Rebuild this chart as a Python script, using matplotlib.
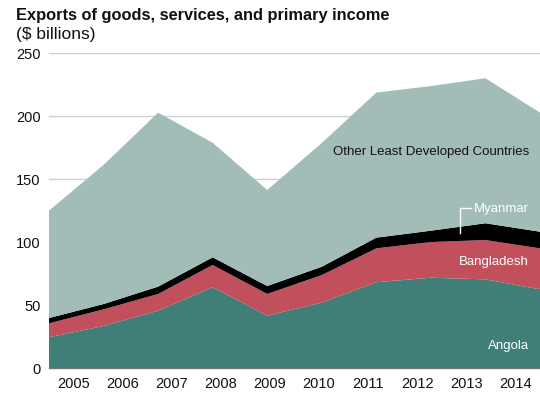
import matplotlib
matplotlib.use('Agg')
import matplotlib.pyplot as plt

years = ['2005', '2006', '2007', '2008', '2009', '2010', '2011', '2012', '2013', '2014']
angola = [24.6, 33.6, 45.7, 64.3, 41.8, 52.1, 68.3, 71.9, 70.6, 62.7]
bangladesh = [11.1, 13.2, 13.3, 17.7, 17.2, 21.9, 26.9, 28.3, 31.2, 32.5]
myanmar = [4.2, 4.2, 5.8, 6.1, 6.3, 6.6, 8.5, 9.0, 13.3, 13.2]
other_ldc = [85.2, 110.4, 138.1, 90.9, 76.2, 98.2, 115.1, 114.8, 115.1, 94.5]

colors = ['#407e78', '#c24f5c', '#000000', '#a2bdb8']

plt.rcParams['font.family'] = ['Liberation Sans', 'DejaVu Sans']

fig = plt.figure(figsize=(5.4, 3.96), dpi=100)
ax = fig.add_axes([49 / 540, 1 - 368.3 / 396, 491 / 540, (368.3 - 53.3) / 396])

x = list(range(len(years)))
ax.stackplot(x, angola, bangladesh, myanmar, other_ldc, colors=colors, linewidth=0, zorder=2)

ax.set_xlim(0, len(years) - 1)
ax.set_ylim(0, 250)
ax.set_yticks([0, 50, 100, 150, 200, 250])
ax.grid(axis='y', color='#d0d0d0', linewidth=1, zorder=1)
ax.set_axisbelow(True)

# year labels sit in the middle of ten equal bins, not on the data points
span = len(years) - 1
ax.set_xticks([span * (i + 0.5) / len(years) for i in range(len(years))])
ax.set_xticklabels(years)
ax.tick_params(axis='both', length=0, labelsize=10.5, colors='#111111')
ax.tick_params(axis='y', pad=6)
ax.tick_params(axis='x', pad=6)

for side in ['top', 'right', 'left']:
    ax.spines[side].set_visible(False)
ax.spines['bottom'].set_color('#777777')
ax.spines['bottom'].set_linewidth(1)
ax.spines['bottom'].set_zorder(5)

ax.text(8.8, 171.9, 'Other Least Developed Countries', ha='right', va='center',
        fontsize=9.5, color='#111111')
ax.text(8.8, 126.2, 'Myanmar', ha='right', va='center', fontsize=9.5, color='white')
ax.text(8.8, 84.1, 'Bangladesh', ha='right', va='center', fontsize=9.5, color='white')
ax.text(8.8, 17.9, 'Angola', ha='right', va='center', fontsize=9.5, color='white')
ax.plot([7.74, 7.53, 7.53], [127, 127, 107.5], color='white', linewidth=1, zorder=4)

fig.text(16 / 540, 1 - 20 / 396, 'Exports of goods, services, and primary income',
         fontsize=11.8, fontweight='bold', ha='left', va='baseline', color='#111111')
fig.text(16 / 540, 1 - 39 / 396, '($ billions)', fontsize=12.5, ha='left', va='baseline', color='#111111')

fig.savefig('out.png', dpi=100)
